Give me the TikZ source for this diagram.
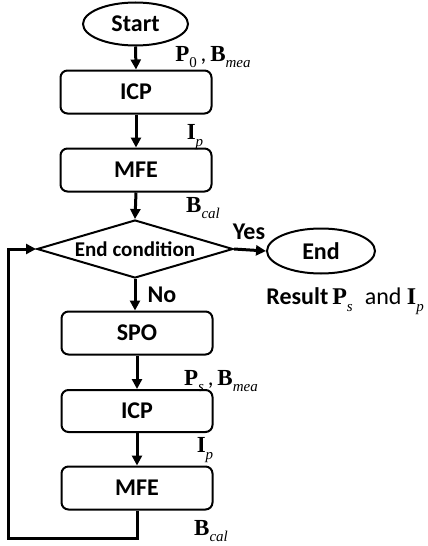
\documentclass[tikz,border=0pt]{standalone}
\usepackage{fontspec}
\setmainfont{Carlito}
\newfontfamily\tms{Liberation Serif}
\usetikzlibrary{shapes.geometric,arrows.meta}
\newcommand\vb[2]{{\tms\bfseries #1}\raisebox{-0.6ex}{\fontsize{15}{15}\selectfont\tms\mdseries\itshape #2}}
\begin{document}
\begin{tikzpicture}[x=1pt,y=-1pt,
  every node/.style={font=\fontsize{24}{26}\selectfont\bfseries},
  proc/.style={draw,line width=2pt,rounded corners=7pt,minimum width=151pt,minimum height=43pt,inner sep=0pt},
  term/.style={draw,line width=2pt,ellipse,inner sep=0pt},
  lab/.style={font=\fontsize{23}{24}\selectfont,inner sep=0pt},
  arr/.style={line width=3pt,-{Triangle[length=10pt,width=10pt]}}]
\useasboundingbox (0,0) rectangle (428,546);
\node[term,minimum width=105pt,minimum height=43pt] (start) at (135.5,24) {Start};
\node[proc] (icp1) at (136,92) {ICP};
\node[proc] (mfe1) at (136,170) {MFE};
\node[draw,line width=2pt,diamond,aspect=3.38,inner sep=0pt,minimum width=196pt,minimum height=58pt,font=\fontsize{21}{23}\selectfont\bfseries] (cond) at (135,249) {End condition};
\node[term,minimum width=108pt,minimum height=45pt] (end) at (321,251) {End};
\node[inner sep=0pt,anchor=east] (res) at (424,301) {Result\,\vb{P}{s}\enspace{\mdseries and}\ \vb{I}{p}};
\node[proc] (spo) at (137,333) {SPO};
\node[proc,minimum height=42pt] (icp2) at (137,411) {ICP};
\node[proc] (mfe2) at (137,488) {MFE};
\node[lab] (l1) at (213,57) {\vb{P}{\upshape 0}\,,\,\vb{B}{mea}};
\node[lab] (l2) at (195,137) {\vb{I}{p}};
\node[lab] (l3) at (203,208) {\vb{B}{cal}};
\node[inner sep=0pt] (yes) at (249,232) {Yes};
\node[inner sep=0pt] (no) at (162,295) {No};
\node[lab] (l4) at (221,381) {\vb{P}{s}\,,\,\vb{B}{mea}};
\node[lab] (l5) at (205,450) {\vb{I}{p}};
\node[lab] (l6) at (211,531) {\vb{B}{cal}};
\draw[arr] (start.south) -- (icp1.north);
\draw[arr] (icp1.south) -- (mfe1.north);
\draw[arr] (mfe1.south) -- (cond.north);
\draw[arr] (cond.east) -- (end.west);
\draw[arr] (cond.south) -- (cond.south |- spo.north);
\draw[arr] (spo.south) -- (icp2.north);
\draw[arr] (icp2.south) -- (mfe2.north);
\coordinate (c1) at (137,538);
\coordinate (c2) at (8,538);
\coordinate (c3) at (8,249);
\draw[arr,line join=miter] (mfe2.south) -- (c1) -- (c2) -- (c3) -- (cond.west);
\end{tikzpicture}
\end{document}
